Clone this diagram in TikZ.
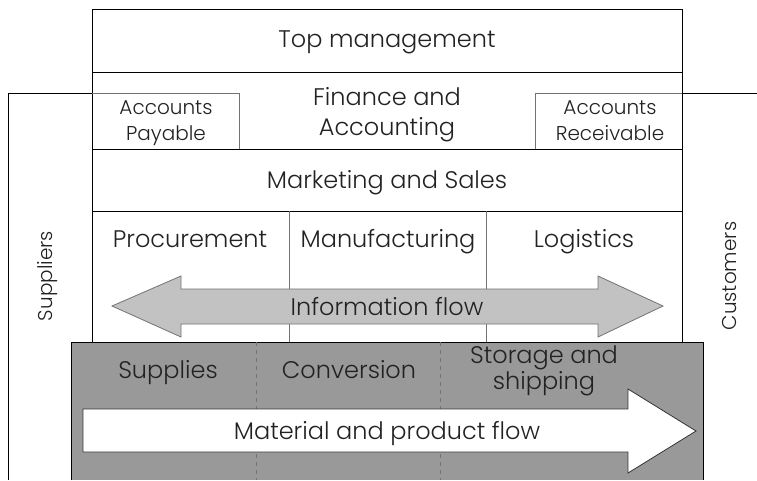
\documentclass[tikz,border=0pt]{standalone}
\usepackage{fontspec}
\IfFontExistsTF{Poppins Light}{\setmainfont{Poppins Light}}{\setmainfont{Poppins}}
\usetikzlibrary{positioning}
\definecolor{txt}{HTML}{222222}
\definecolor{matgray}{HTML}{999999}
\definecolor{infogray}{HTML}{C2C2C2}
\begin{document}
\begin{tikzpicture}[x=1pt,y=-1pt,line join=miter,
    font=\fontsize{24}{30}\selectfont,text=txt,
    frame/.style={draw=black,line width=0.9pt},
    thin/.style={draw=black!55,line width=0.8pt},
    lbl/.style={align=center,inner sep=0pt,anchor=base},
    small/.style={font=\fontsize{20}{26}\selectfont}]
\useasboundingbox (0,0) rectangle (757,480);
% supplier and customer lines
\draw[frame] (92,93) -- (8,93) -- (8,480);
\draw[frame] (682,93) -- (757,93);
% material side
\fill[matgray] (71,342) rectangle (703,480);
\draw[frame] (71,480) -- (71,342) -- (703,342) -- (703,480);
\draw[thin,dashed,dash pattern=on 4pt off 4pt] (256,342) -- (256,480);
\draw[thin,dashed,dash pattern=on 4pt off 4pt] (440,342) -- (440,480);
% company box
\fill[white] (92,9) rectangle (682,342);
\draw[frame] (92,342) -- (92,9) -- (682,9) -- (682,342);
\draw[frame] (92,72) -- (682,72);
\draw[frame] (92,149) -- (682,149);
\draw[frame] (92,211) -- (682,211);
\draw[thin] (92,93) -| (239,149);
\draw[thin] (682,93) -| (535,149);
\draw[thin] (289,211) -- (289,342);
\draw[thin] (486,211) -- (486,342);
% flows
\draw[thin,fill=infogray] (112,306) -- (181,276) -- (181,289) -- (598,289) -- (598,276)
  -- (663,306) -- (598,337) -- (598,324) -- (181,324) -- (181,337) -- cycle;
\draw[draw=black!80,line width=0.8pt,fill=white] (83,409) -- (628,409) -- (628,389) -- (696,431)
  -- (628,473) -- (628,452) -- (83,452) -- cycle;
% labels (base = last line)
\node[lbl] (top) at (387,47) {Top management};
\node[lbl] (fin) at (387,135) {Finance and\\Accounting};
\node[lbl,small] (ap) at (166,140) {Accounts\\Payable};
\node[lbl,small] (ar) at (610,140) {Accounts\\Receivable};
\node[lbl] (mkt) at (387,188) {Marketing and Sales};
\node[lbl] (proc) at (190,247) {Procurement};
\node[lbl] (manu) at (388,247) {Manufacturing};
\node[lbl] (logi) at (584,247) {Logistics};
\node[lbl] (info) at (387,315) {Information flow};
\node[lbl] (supp) at (168,378) {Supplies};
\node[lbl] (conv) at (349,378) {Conversion};
\node[lbl,font=\fontsize{24}{23}\selectfont] (stor) at (544,389) {Storage and\\shipping};
\node[lbl] (mat) at (387,439) {Material and product flow};
\node[lbl,rotate=90,small] (suppliers) at (52,276) {Suppliers};
\node[lbl,rotate=90,small] (customers) at (736,276) {Customers};
\end{tikzpicture}
\end{document}
